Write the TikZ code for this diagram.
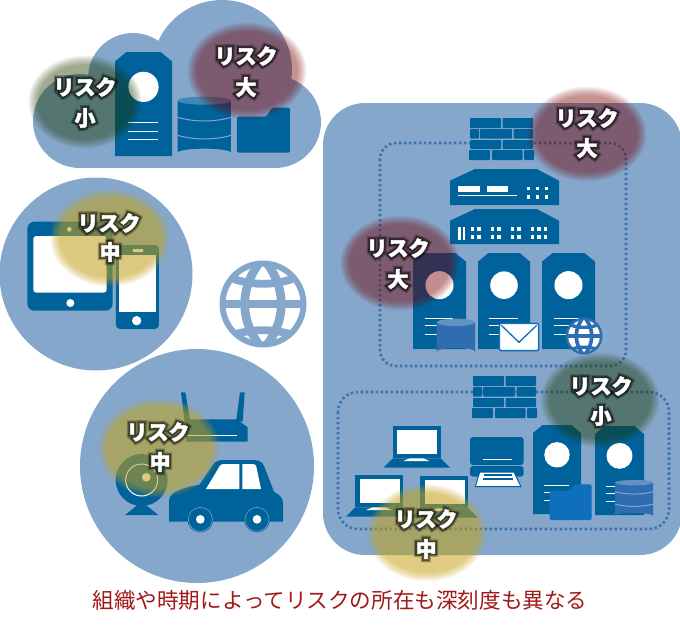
\documentclass[tikz,border=0pt]{standalone}
\usepackage{fontspec}
\newfontfamily\jp{Noto Sans CJK JP}
\newfontfamily\jpwhite[BoldFeatures={FakeBold=2}]{Noto Sans CJK JP}
\newfontfamily\jpglowA[BoldFeatures={FakeBold=32}]{Noto Sans CJK JP}
\newfontfamily\jpglowB[BoldFeatures={FakeBold=20}]{Noto Sans CJK JP}
\usetikzlibrary{calc}
\definecolor{bgB}{HTML}{85A7CB}
\definecolor{icoB}{HTML}{00629B}
\definecolor{midB}{HTML}{2E6DB0}
\definecolor{dotB}{HTML}{3B72AE}
\definecolor{folB}{HTML}{0F6EBD}
\definecolor{rRed}{RGB}{124,0,0}
\definecolor{rYel}{RGB}{200,165,30}
\definecolor{rGrn}{RGB}{30,60,0}
\definecolor{capR}{HTML}{A01818}
\tikzset{
  ico/.style={fill=icoB,draw=none},
  wht/.style={fill=white,draw=none},
  dotbox/.style={draw=dotB,line width=2.6pt,dash pattern=on 2.4pt off 2.6pt,rounded corners=#1},
  zm/.style 2 args={shift={(#1,#2)},x=.33333pt,y=-.33333pt},
  riskbase/.style={inner sep=0pt,anchor=center},
}
\newcommand{\mkblob}[6]{%
  \foreach \k in {0,...,9}{%
    \fill[#5,opacity=#6] (#1,#2) ellipse ({#3+4.5-\k} and {#4+4.5-\k});
  }}
\newcommand{\mkline}[4]{%
  \node[riskbase,font=\jpglowA\bfseries\fontsize{21}{24}\selectfont,text=black,opacity=.28] (#1g) at (#2,#3) {#4};
  \node[riskbase,font=\jpglowB\bfseries\fontsize{21}{24}\selectfont,text=black,opacity=.45] (#1h) at (#2,#3) {#4};
  \node[riskbase,font=\jpwhite\bfseries\fontsize{21}{24}\selectfont,text=white] (#1) at (#2,#3) {#4};}
\newcommand{\mkserver}[4]{%
  \pgfmathsetmacro\sw{#3-#1}\pgfmathsetmacro\sh{#4-#2}
  \fill[ico] (#1,#2+.09*\sh) -- (#1+.2*\sw,#2) -- (#3-.2*\sw,#2) -- (#3,#2+.09*\sh) -- (#3,#4) -- (#1,#4) -- cycle;
  \fill[wht] (#1+.5*\sw,#2+.335*\sh) circle ({.265*\sw});
  \foreach \f in {.68,.76,.845}{
    \draw[white,line width=1pt] (#1+.22*\sw,#2+\f*\sh) -- (#1+.76*\sw,#2+\f*\sh);
  }}
\newcommand{\mkwall}[2]{%
  \begin{scope}[shift={(#1,#2)}]
    \foreach \xa/\xb/\ya/\yb in {1/32/0/10, 33.5/64/0/10, 1/10/11/20.5, 11/43/11/20.5, 44.5/64/11/20.5, 1/32/22/31, 33.5/64/22/31, 0/21/32/42, 23/53.5/32/42, 55/65/32/42}{
      \fill[ico,rounded corners=.8pt] (\xa,\ya) rectangle (\xb,\yb);
    }
  \end{scope}}
\newcommand{\mkglobe}[4]{%
  \begin{scope}
    \fill[#4] (#1,#2) circle (#3);
    \fill[wht] (#1,#2) circle ({.86*#3});
    \clip (#1,#2) circle ({.9*#3});
    \draw[#4,line width={.2*#3 pt}] (#1,{#2-1.05*#3}) .. controls ({#1-.56*#3},{#2-.4*#3}) and ({#1-.56*#3},{#2+.4*#3}) .. (#1,{#2+1.05*#3});
    \draw[#4,line width={.2*#3 pt}] (#1,{#2-1.05*#3}) .. controls ({#1+.56*#3},{#2-.4*#3}) and ({#1+.56*#3},{#2+.4*#3}) .. (#1,{#2+1.05*#3});
    \draw[#4,line width={.18*#3 pt}] ({#1-#3},#2) -- ({#1+#3},#2);
    \draw[#4,line width={.18*#3 pt}] ({#1-#3},{#2-.72*#3}) .. controls ({#1-.4*#3},{#2-.38*#3}) and ({#1+.4*#3},{#2-.38*#3}) .. ({#1+#3},{#2-.72*#3});
    \draw[#4,line width={.18*#3 pt}] ({#1-#3},{#2+.85*#3}) .. controls ({#1-.4*#3},{#2+.52*#3}) and ({#1+.4*#3},{#2+.52*#3}) .. ({#1+#3},{#2+.85*#3});
  \end{scope}}
\newcommand{\mkstack}[7]{% x1 x2 top bottom e colour lines
  \fill[#6] (#1,#3) -- (#1,#4) arc[start angle=180,end angle=360,x radius={(#2-#1)/2},y radius=#5,] -- (#2,#3) -- cycle;
  \fill[#6!75!white] ({(#1+#2)/2},#3) ellipse ({(#2-#1)/2} and #5);
  \foreach \yy in {#7}{
    \draw[bgB,line width=1pt] (#1,\yy) .. controls ({#1+.3*(#2-#1)},\yy+#5*1.2) and ({#1+.7*(#2-#1)},\yy+#5*1.2) .. (#2,\yy);
  }}
\newcommand{\mklaptop}[2]{%
  \begin{scope}[shift={(#1,#2)}]
    \fill[ico] (0,0) rectangle (144,97);
    \fill[wht] (13,12) rectangle (133,84);
    \fill[ico] (0,97) -- (-28,125) -- (172,125) -- (144,97) -- cycle;
    \fill[wht] (52,97) -- (92,97) -- (110,105) -- (32,105) -- cycle;
  \end{scope}}
\begin{document}
\begin{tikzpicture}[x=1pt,y=-1pt]
\useasboundingbox (0,0) rectangle (680,630);
% backgrounds
\fill[bgB] (80,121) circle (47);
\fill[bgB] (133,78) circle (45);
\fill[bgB] (222,70) circle (70);
\fill[bgB] (275,122) circle (46);
\fill[bgB] (75,110) rectangle (275,168);
\fill[bgB] (96,274) circle (96.5);
\fill[bgB] (197,466) circle (117);
\fill[bgB,rounded corners=42] (323,103) rectangle (682,555);
\mkglobe{263}{304}{43.5}{bgB}
\draw[dotbox=16] (380,143) rectangle (626,366);
\draw[dotbox=20] (338,392) rectangle (669,529);
% cloud icons
\mkserver{115}{52}{172}{156}
\begin{scope}[zm={0}{0}]
  \mkstack{533}{693}{302}{458}{12}{icoB}{352,406}
  \fill[ico,rounded corners=2pt] (711,350) -- (800,350) -- (815,323) -- (870,323) -- (870,458) -- (711,458) -- cycle;
\end{scope}
% tablet + phone
\begin{scope}[zm={0}{170}]
  \fill[ico,rounded corners=7pt] (82,155) rectangle (338,422);
  \fill[wht,rounded corners=3pt] (100,198) rectangle (320,368);
  \fill[wht] (211,399) circle (12);
  \fill[wht] (208,178) circle (7);
  \fill[ico,rounded corners=4pt] (348,225) rectangle (477,477);
  \fill[wht] (357,255) rectangle (467,425);
  \fill[wht] (410,452) circle (14);
  \fill[wht,rounded corners=1pt] (398,237) rectangle (430,246);
\end{scope}
% router, webcam, car
\begin{scope}[zm={80}{350}]
  \fill[ico] (303,127) -- (316,127) -- (331,215) -- (314,215) -- cycle;
  \fill[ico] (480,127) -- (494,127) -- (488,215) -- (468,215) -- cycle;
  \fill[ico] (318,208) -- (470,208) -- (503,232) -- (503,275) -- (318,275) -- cycle;
  \draw[white,line width=1pt] (325,257) -- (470,257);
  \fill[ico] (185,390) circle (78);
  \fill[ico] (185,455) -- (135,495) -- (235,495) -- cycle;
  \draw[white,line width=1pt] (185,390) circle (48);
  \fill[wht] (199,382) circle (13);
  \fill[ico] (267,515) -- (267,450) .. controls (270,425) and (310,412) .. (358,404) -- (398,345) .. controls (405,335) and (415,330) .. (430,330) -- (520,330) .. controls (535,330) and (548,335) .. (553,350) -- (582,425) .. controls (600,435) and (609,445) .. (609,460) -- (609,515) -- cycle;
  \fill[wht] (378,417) -- (418,350) .. controls (422,344) and (425,342) .. (432,342) -- (478,342) -- (478,417) -- cycle;
  \fill[wht] (487,342) -- (518,342) .. controls (525,342) and (527,345) .. (529,350) -- (543,417) -- (487,417) -- cycle;
  \foreach \wx in {361,531}{
    \fill[ico] (\wx,508) circle (39);
    \draw[bgB,line width=.5pt] (\wx,508) circle (36);
    \fill[wht] (\wx,508) circle (13);
  }
\end{scope}
% top group
\mkwall{469}{118}
\begin{scope}[zm={340}{90}]
  \fill[ico] (330,345) -- (330,272) -- (405,237) -- (590,237) -- (657,272) -- (657,345) -- cycle;
  \fill[wht] (355,287) rectangle (420,305);
  \fill[wht] (440,287) rectangle (505,305);
  \fill[wht] (355,315) rectangle (532,319);
  \foreach \dx in {560,587,614}{\foreach \dy in {290,316}{\fill[wht] (\dx,\dy) rectangle (\dx+11,\dy+10);}}
  \fill[ico] (330,462) -- (330,392) -- (405,357) -- (590,357) -- (657,392) -- (657,462) -- cycle;
  \fill[wht] (354,410) rectangle (362,450);
  \fill[wht] (368,410) rectangle (376,450);
  \foreach \dx in {392,412,452,472,512,532,572,592,612}{\foreach \dy in {412,436}{\fill[wht] (\dx,\dy) rectangle (\dx+10,\dy+10);}}
\end{scope}
\mkserver{413}{253}{466}{349}
\mkserver{478}{253}{530}{349}
\mkserver{542}{253}{595}{349}
\begin{scope}[zm={340}{90}]
  \mkstack{290}{405}{697}{785}{11}{midB}{}
  \fill[wht,draw=folB,line width=1.5pt,rounded corners=2pt] (478,700) rectangle (596,782);
  \draw[folB,line width=1.3pt] (484,706) -- (537,757) -- (590,706);
\end{scope}
\mkglobe{584}{336}{18.5}{midB}
% bottom group
\mkwall{472}{376}
\begin{scope}[zm={330}{360}]
  \mklaptop{188}{198}
  \mklaptop{76}{345}
  \mklaptop{271}{348}
  \fill[ico,rounded corners=3pt] (420,231) rectangle (581,315);
  \draw[white,line width=1pt] (458,299) -- (547,299);
  \fill[ico,rounded corners=3pt] (420,318) rectangle (581,350);
  \fill[wht,draw=icoB,line width=1pt] (449,336) -- (552,336) -- (573,380) -- (436,380) -- cycle;
  \fill[ico] (462,343) rectangle (545,348);
  \fill[ico] (459,355) rectangle (548,360);
\end{scope}
\mkserver{533}{425}{581}{514}
\mkserver{595}{426}{644}{515}
\begin{scope}[zm={330}{360}]
  \fill[folB,rounded corners=2pt] (659,392) -- (720,392) -- (735,373) -- (785,373) -- (785,480) -- (659,480) -- cycle;
  \mkstack{855}{969}{368}{467}{8}{midB}{395,432}
\end{scope}
% risk halos
\mkblob{85}{102}{52}{42}{rGrn}{.055}
\mkblob{247}{71}{55}{44}{rRed}{.056}
\mkblob{110}{238}{55}{44}{rYel}{.08}
\mkblob{159}{448}{56}{45}{rYel}{.08}
\mkblob{587}{134}{55}{43}{rRed}{.056}
\mkblob{400}{263}{55}{43}{rRed}{.056}
\mkblob{600}{400}{55}{43}{rGrn}{.055}
\mkblob{427}{533}{55}{44}{rYel}{.08}
% risk labels
\mkline{a1}{85}{87}{リスク}\mkline{a2}{85}{118}{小}
\mkline{b1}{246}{56}{リスク}\mkline{b2}{246}{87}{大}
\mkline{c1}{109}{223}{リスク}\mkline{c2}{110}{252}{中}
\mkline{d1}{158}{432}{リスク}\mkline{d2}{160}{462}{中}
\mkline{e1}{587}{118}{リスク}\mkline{e2}{587}{148}{大}
\mkline{f1}{398}{248}{リスク}\mkline{f2}{398}{279}{大}
\mkline{g1}{601}{386}{リスク}\mkline{g2}{601}{416}{小}
\mkline{h1}{426}{519}{リスク}\mkline{h2}{426}{549}{中}
\node[font=\jp\fontsize{21.6}{24}\selectfont,text=capR,inner sep=0pt] (cap) at (340,600) {組織や時期によってリスクの所在も深刻度も異なる};
\end{tikzpicture}
\end{document}
